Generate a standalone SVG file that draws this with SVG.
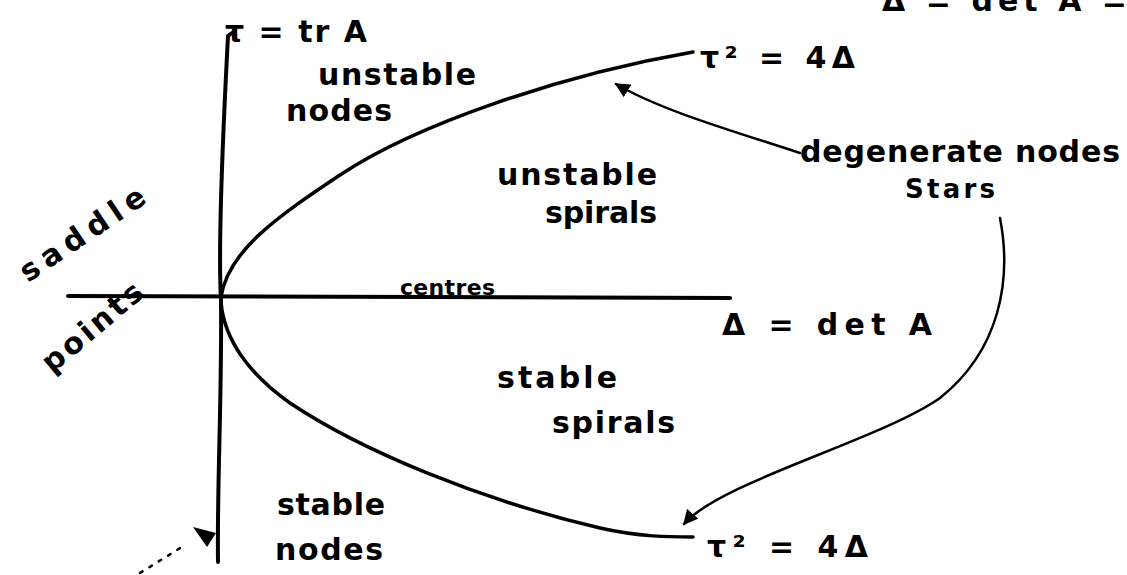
<svg xmlns="http://www.w3.org/2000/svg" width="1127" height="575" viewBox="0 0 1127 575">
<style>
.t{font-family:"DejaVu Sans","Liberation Sans",sans-serif;font-weight:bold;font-size:30px;fill:#000}
.s{font-size:26px}
.c{font-size:22px}
.ax{fill:none;stroke:#000;stroke-width:4;stroke-linecap:round}
.cv{fill:none;stroke:#000;stroke-width:3.5;stroke-linecap:round}
.cn{fill:none;stroke:#000;stroke-width:2.5;stroke-linecap:round}
</style>
<defs>
<marker id="arr" viewBox="0 0 10 10" refX="9" refY="5" markerWidth="6" markerHeight="6" orient="auto" markerUnits="strokeWidth">
<path d="M0,0 L10,5 L0,10 Z" fill="#000"/>
</marker>
</defs>
<rect width="1127" height="575" fill="#fff"/>
<g id="axes">
<path class="ax" d="M232,33 L228,36 C222,150 218,250 221,300 C222,400 217,480 218,562"/>
<path class="ax" d="M68,296 L730,298"/>
</g>
<g id="parabola">
<path class="cv" d="M221,297 C228,250 280,215 340,175 C415,125 560,75 693,52"/>
<path class="cv" d="M221,302 C224,340 250,375 290,403 C360,450 480,500 600,528 C640,537 670,537 693,537"/>
</g>
<g id="connectors">
<path class="cn" d="M800,153 C730,130 660,110 616,84" marker-end="url(#arr)"/>
<path class="cn" d="M1000,218 C1012,280 1000,350 940,398 C880,440 720,482 684,524" marker-end="url(#arr)"/>
<path class="cn" d="M140,573 L185,545" stroke-dasharray="3,8"/>
<path d="M193,527 L216,533 L207,547 Z" fill="#000"/>
</g>
<g id="label-tau"><text class="t" x="225" y="42" textLength="142">τ = tr A</text></g>
<g id="label-det-top"><text class="t" x="882" y="11" textLength="245">Δ = det A =</text></g>
<g id="unstable-nodes"><text class="t" x="318" y="85" textLength="158">unstable</text><text class="t" x="286" y="121" textLength="106">nodes</text></g>
<g id="unstable-spirals"><text class="t" x="497" y="185" textLength="160">unstable</text><text class="t" x="545" y="223" textLength="112">spirals</text></g>
<g id="degenerate"><text class="t" x="800" y="162" textLength="320">degenerate nodes</text><text class="t s" x="905" y="198" textLength="90">Stars</text></g>
<g id="tau-top"><text class="t" x="700" y="68" textLength="155">τ² = 4Δ</text></g>
<g id="saddle"><text class="t" x="28" y="283" transform="rotate(-34 28 283)" textLength="145">saddle</text><text class="t" x="52" y="374" transform="rotate(-40 52 374)" textLength="122">points</text></g>
<g id="centres"><text class="t c" x="400" y="295" textLength="95">centres</text></g>
<g id="det-axis"><text class="t" x="722" y="335" textLength="210">Δ = det A</text></g>
<g id="stable-spirals"><text class="t" x="497" y="388" textLength="120">stable</text><text class="t" x="552" y="433" textLength="123">spirals</text></g>
<g id="stable-nodes"><text class="t" x="277" y="515" textLength="108">stable</text><text class="t" x="275" y="560" textLength="108">nodes</text></g>
<g id="tau-bottom"><text class="t" x="707" y="557" textLength="161">τ² = 4Δ</text></g>
</svg>
